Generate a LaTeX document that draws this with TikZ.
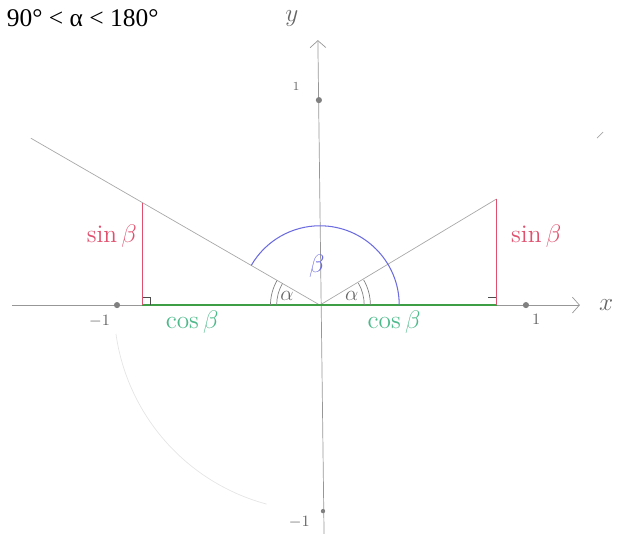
\documentclass[tikz,border=0pt]{standalone}
\usepackage{amsmath,amssymb}
\usepackage{fontspec}
\newfontfamily\titlefont{Liberation Serif}
\usepackage{xcolor}
\usepackage{tikz}
\usetikzlibrary{calc}
\usetikzlibrary{arrows.meta}
\definecolor{sinred}{HTML}{E0506E}
\definecolor{cosgreen}{HTML}{4CB98A}
\definecolor{basegreen}{HTML}{3E9E45}
\definecolor{arcblue}{HTML}{6C6CE0}
\definecolor{pencil}{HTML}{A8A8A8}
\tikzset{
	axis/.style={pencil!90!black,thin,-{Straight Barb[length=4pt,width=9pt]}},
	side/.style={pencil,thin},
	sinline/.style={sinred,line width=0.8pt},
	tickdot/.style={circle,fill=gray,inner sep=0pt,minimum size=3.5pt},
	lbl/.style={gray!80!black,font=\small}
}
\def\rightmark#1{\draw[thin,black!70] #1 ++(0,0.04) -| ++(0.04,-0.04);}

\begin{document}
\begin{tikzpicture}[x=4.12cm,y=4.12cm]
	\useasboundingbox (-1.553,-1.117) rectangle (1.476,1.481);
	\coordinate (O) at (0,0);
	\coordinate (xl) at (-1.495,0);
	\coordinate (xr) at (1.262,0);
	\coordinate (yb) at (0.02,-1.11);
	\coordinate (yt) at (-0.01,1.286);
	\coordinate (P) at (31:1);
	\coordinate (Pf) at ($(P|-O)$);
	\coordinate (Q) at (-0.862,0.497);
	\coordinate (Qf) at ($(Q|-O)$);
	\coordinate (Qe) at (150:1.62);
	% faint unit circle, axes
	\draw[pencil!30,thin] (188:1) arc (188:255:1);
	\draw[axis] (xl)--(xr);
	\draw[axis] (yb)--(yt);
	\node[tickdot] (d1) at (1,0) {};
	\node[tickdot] (d2) at (-0.985,0) {};
	\node[tickdot] (d3) at (-0.005,0.995) {};
	\node[tickdot,minimum size=2.5pt] (d4) at (0.015,-1) {};
	\node[lbl] (n1) at (1.05,-0.07) {$1$};
	\node[lbl] (n2) at (-1.07,-0.08) {$-1$};
	\node[lbl,font=\scriptsize] (n3) at (-0.115,1.06) {$1$};
	\node[lbl] (n4) at (-0.1,-1.055) {$-1$};
	\node[lbl,font=\Large] (ylab) at (-0.136,1.39) {$y$};
	\node[lbl,font=\Large] (xlab) at (1.39,0) {$x$};
	% terminal sides
	\draw[side] (O)--(P);
	\draw[side] (O)--(Qe);
	\draw[basegreen,thick] (Qf)--(Pf);
	\rightmark{($(Pf)+(-0.04,0)$)}
	\rightmark{(Qf)}
	\draw[sinline] (Pf)--(P);
	\draw[sinline] (Qf)--(Q);
	% angles
	\draw[arcblue,semithick] (0.385,0) arc (0:150:0.385);
	\draw[gray] (150:0.21) arc (150:180:0.21);
	\draw[gray] (150:0.24) arc (150:180:0.24);
	\draw[gray] (0:0.215) arc (0:30:0.215);
	\draw[gray] (0:0.245) arc (0:30:0.245);
	\node[text=arcblue,font=\Large] (beta) at (-0.015,0.19) {$\beta$};
	\node[text=gray!80!black,font=\large] (al) at (-0.16,0.045) {$\alpha$};
	\node[text=gray!80!black,font=\large] (ar) at (0.155,0.045) {$\alpha$};
	\node[text=sinred,font=\Large] (sl) at (-1.01,0.335) {$\sin\beta$};
	\node[text=sinred,font=\Large] (sr) at (1.05,0.335) {$\sin\beta$};
	\node[text=cosgreen,font=\Large] (cl) at (-0.62,-0.085) {$\cos\beta$};
	\node[text=cosgreen,font=\Large] (cr) at (0.36,-0.085) {$\cos\beta$};
	\draw[gray!70] (1.345,0.81)--(1.375,0.84);
	\node[anchor=west,font=\titlefont\fontsize{14.5}{16}\selectfont] (title) at (-1.55,1.395) {90° < α < 180°};
\end{tikzpicture}
\end{document}
